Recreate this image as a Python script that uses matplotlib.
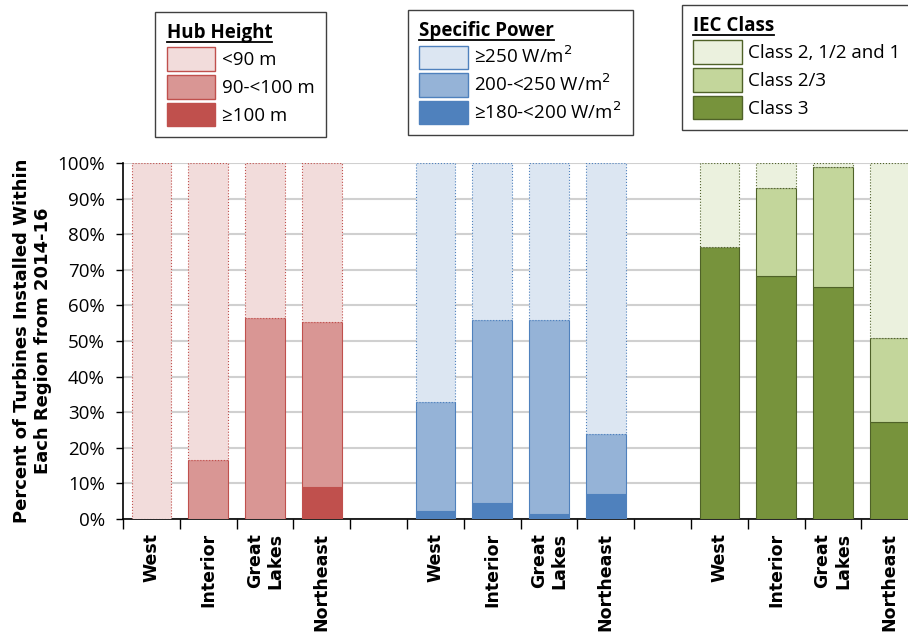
import matplotlib.pyplot as plt
from matplotlib.patches import Patch
from matplotlib.lines import Line2D
from matplotlib.ticker import PercentFormatter

# Data (percent of turbines)
regions = ["West", "Interior", "Great\nLakes", "Northeast"]

hub_labels = ["<90 m", "90-<100 m", "\u2265100 m"]
hub_low = [100.0, 83.4, 43.6, 44.8]
hub_mid = [0.0, 16.6, 56.4, 46.3]
hub_high = [0.0, 0.0, 0.0, 8.9]

sp_labels = ["\u2265250 W/m$^2$", "200-<250 W/m$^2$", "\u2265180-<200 W/m$^2$"]
sp_high = [67.0, 44.1, 44.1, 76.1]
sp_mid = [30.8, 51.3, 54.5, 17.0]
sp_low = [2.2, 4.6, 1.4, 6.9]

iec_labels = ["Class 2, 1/2 and 1", "Class 2/3", "Class 3"]
iec_c1 = [23.5, 7.1, 1.2, 49.2]
iec_c23 = [0.0, 24.6, 33.5, 23.5]
iec_c3 = [76.5, 68.3, 65.3, 27.3]

groups = [
    ("Hub Height", hub_labels, [hub_low, hub_mid, hub_high],
     ["#F2DCDB", "#D99694", "#C0504D"], "#C0504D", 0),
    ("Specific Power", sp_labels, [sp_high, sp_mid, sp_low],
     ["#DCE6F2", "#95B3D7", "#4F81BD"], "#4F81BD", 5),
    ("IEC Class", iec_labels, [iec_c1, iec_c23, iec_c3],
     ["#EBF1DE", "#C3D69B", "#77933C"], "#4F6228", 10),
]

plt.rcParams['font.family'] = ['Open Sans', 'DejaVu Sans']

fig = plt.figure(figsize=(9.08, 6.35), dpi=100)
ax = fig.add_axes([0.1355, 0.1827, 0.8645, 0.5606])

legend_anchors = [(0.171, 0.981), (0.449, 0.984), (0.751, 0.992)]
legends = []
for (title, labels, segs, colors, edge, start), (lx, ly) in zip(groups, legend_anchors):
    xs = [start + i for i in range(len(regions))]
    # stack from the bottom: last listed segment at the bottom
    bottom = [0.0] * len(regions)
    for k in [2, 1, 0]:
        ls = ':' if k == 0 else '-'
        ax.bar(xs, segs[k], bottom=bottom, width=0.7, color=colors[k],
               edgecolor=edge, linewidth=0.8, linestyle=ls, zorder=3)
        bottom = [b + v for b, v in zip(bottom, segs[k])]
    handles = [Patch(facecolor=colors[k], edgecolor=edge, linewidth=1.0) for k in range(3)]
    leg = fig.legend(handles, labels, title=title, loc='upper left',
                     bbox_to_anchor=(lx, ly), borderaxespad=0, fontsize=13.5,
                     title_fontproperties={'weight': 'bold', 'size': 13.5},
                     alignment='left', fancybox=False, edgecolor='#404040',
                     framealpha=1, handlelength=2.6, handleheight=1.55,
                     handletextpad=0.35, labelspacing=0.22, borderpad=0.6)
    leg.get_frame().set_linewidth(1.0)
    legends.append(leg)

ax.set_ylim(0, 100)
ax.set_xlim(-0.5, 13.32)
ax.set_yticks(range(0, 101, 10))
ax.yaxis.set_major_formatter(PercentFormatter(decimals=0))
ax.yaxis.grid(True, color='#D0D0D0', linewidth=1.5, zorder=0)
ax.set_axisbelow(True)

centers = [g[5] + i for g in groups for i in range(len(regions))]
ax.set_xticks(centers)
ax.set_xticklabels(regions * 3, rotation=90, fontsize=12.5, fontweight='bold',
                   family='DejaVu Sans', ha='center', va='top', multialignment='right')
ax.set_xticks([x - 0.5 for x in range(14)], minor=True)
ax.tick_params(axis='x', which='major', length=0, pad=10)
ax.tick_params(axis='x', which='minor', length=7, width=1, direction='out')
ax.tick_params(axis='y', length=5, width=1, labelsize=13.5, pad=8)

for side in ['top', 'right']:
    ax.spines[side].set_visible(False)
ax.spines['left'].set_linewidth(1.2)
ax.spines['bottom'].set_linewidth(1.2)

ax.set_ylabel("Percent of Turbines Installed Within\nEach Region from 2014-16",
              fontsize=13, fontweight='bold', family='DejaVu Sans', labelpad=4)

# underline the legend titles
fig.canvas.draw()
renderer = fig.canvas.get_renderer()
for leg in legends:
    bb = leg.get_title().get_window_extent(renderer)
    y = (bb.y0 + 1) / fig.bbox.height
    fig.add_artist(Line2D([bb.x0 / fig.bbox.width, bb.x1 / fig.bbox.width], [y, y],
                          color='black', linewidth=1.3, zorder=10))

fig.savefig("out.png", dpi=100)
